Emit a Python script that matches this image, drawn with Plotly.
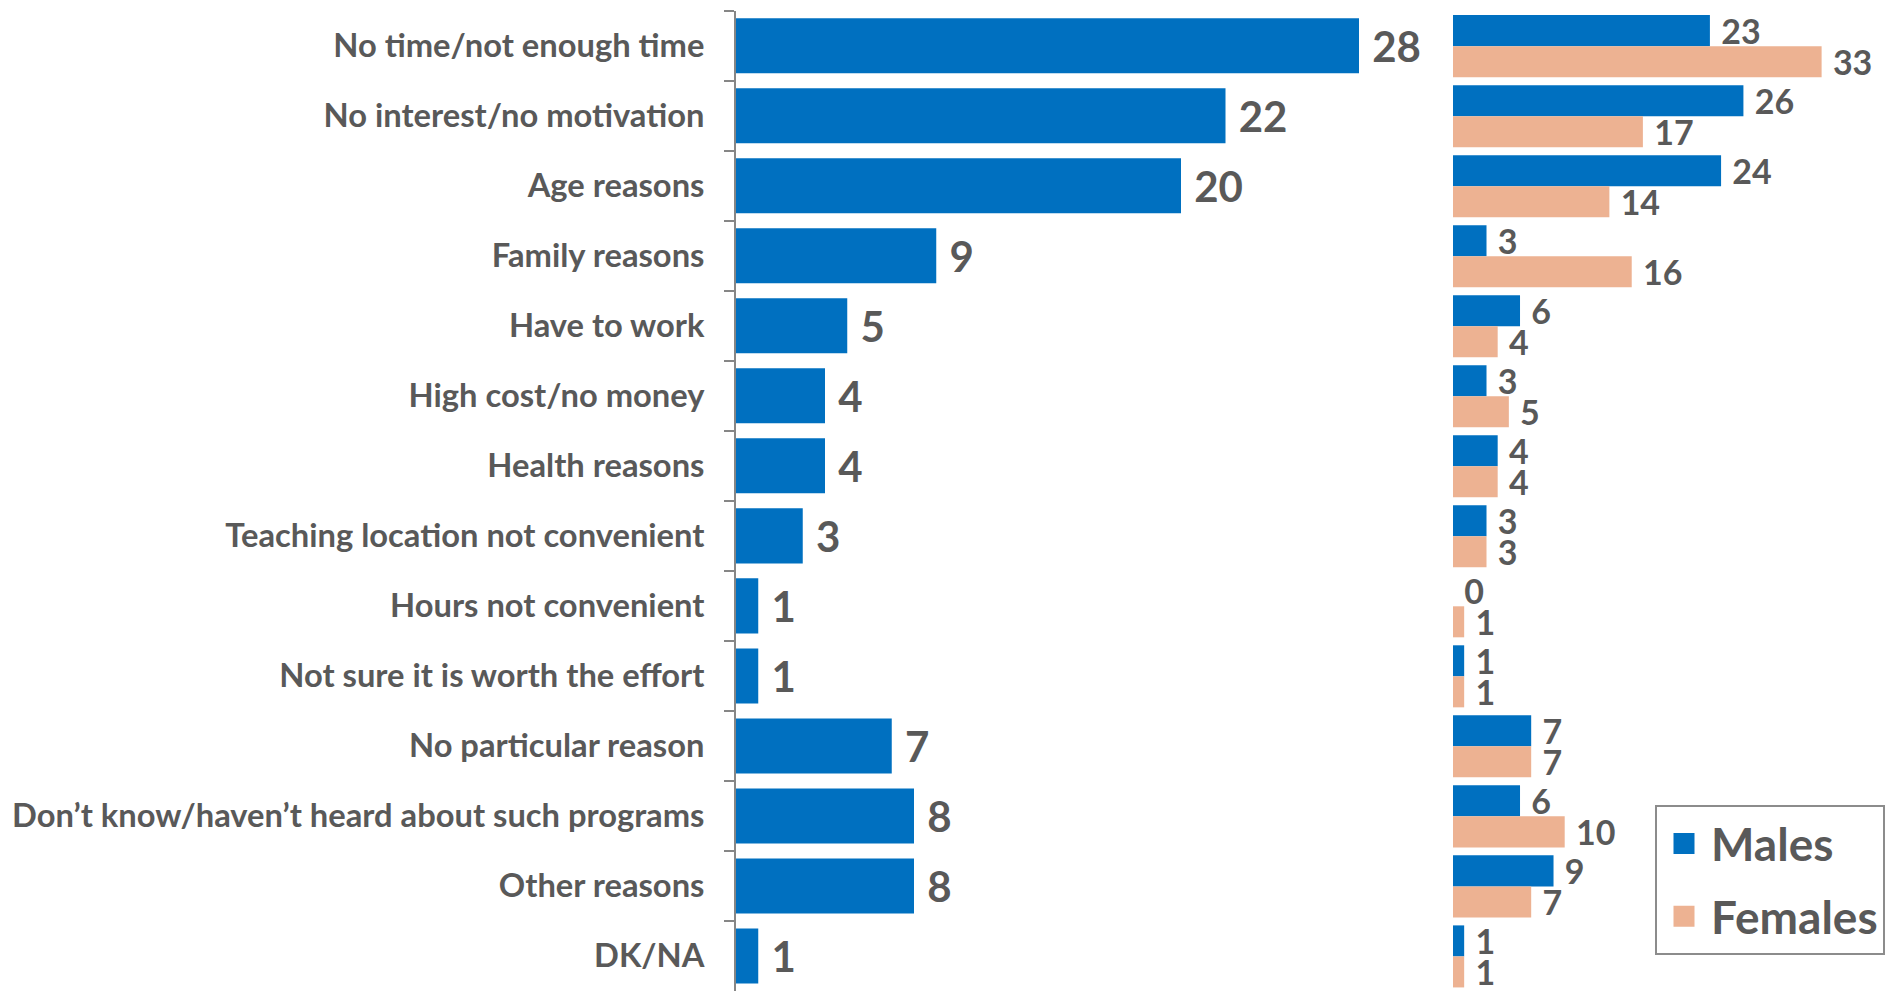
import plotly.graph_objects as go

categories = [
    "No time/not enough time",
    "No interest/no motivation",
    "Age reasons",
    "Family reasons",
    "Have to work",
    "High cost/no money",
    "Health reasons",
    "Teaching location not convenient",
    "Hours not convenient",
    "Not sure it is worth the effort",
    "No particular reason",
    "Don\u2019t know/haven\u2019t heard about such programs",
    "Other reasons",
    "DK/NA",
]
total = [28, 22, 20, 9, 5, 4, 4, 3, 1, 1, 7, 8, 8, 1]
males = [23, 26, 24, 3, 6, 3, 4, 3, 0, 1, 7, 6, 9, 1]
females = [33, 17, 14, 16, 4, 5, 4, 3, 1, 1, 7, 10, 7, 1]
series_names = ["Males", "Females"]

W, H = 1896, 991
BLUE = "#0070C0"
PINK = "#EDB292"
GREY_TXT = "#595959"
FONT = "Lato"

fig = go.Figure()

fig.add_trace(go.Bar(
    y=categories, x=total, orientation="h",
    marker=dict(color=BLUE, line=dict(width=0)),
    width=0.786, offset=-0.393,
    text=total, texttemplate="\u00a0%{x}", textposition="outside",
    textfont=dict(family=FONT, size=42, color=GREY_TXT, weight="bold"),
    constraintext="none", cliponaxis=False,
    showlegend=False, xaxis="x", yaxis="y",
))

for vals, col, off, name in [(males, BLUE, -0.437, series_names[0]),
                             (females, PINK, 0.006, series_names[1])]:
    fig.add_trace(go.Bar(
        y=categories, x=vals, orientation="h", name=name,
        marker=dict(color=col, line=dict(width=0)),
        width=0.443, offset=off,
        text=vals, texttemplate="\u00a0%{x}", textposition="outside",
        textfont=dict(family=FONT, size=34, color=GREY_TXT, weight="bold"),
        constraintext="none", cliponaxis=False,
        showlegend=False, xaxis="x2", yaxis="y2",
    ))

# legend entries (square swatches)
for col, name, grp in [(BLUE, series_names[0], "m"), (PINK, series_names[1], "f")]:
    fig.add_trace(go.Scatter(
        x=[None], y=[None], mode="markers", name=name,
        marker=dict(symbol="square", size=16, color=col, line=dict(color=col, width=5)),
        legendgroup=grp, xaxis="x2", yaxis="y2", hoverinfo="skip",
    ))

x1_left, x1_right = 736, 1440
x2_left, x2_right = 1453, 1896
ytop = 10.7

fig.update_layout(
    width=W, height=H,
    margin=dict(l=0, r=0, t=0, b=0),
    paper_bgcolor="white", plot_bgcolor="rgba(0,0,0,0)",
    barmode="overlay",
    font=dict(family=FONT, color=GREY_TXT),
    xaxis=dict(domain=[x1_left / W, x1_right / W], range=[0, (x1_right - x1_left) / 22.25],
               showgrid=False, zeroline=False, showticklabels=False, showline=False, fixedrange=True),
    xaxis2=dict(domain=[x2_left / W, x2_right / W], range=[0, (x2_right - x2_left) / 11.17],
                showgrid=False, zeroline=False, showticklabels=False, showline=False, fixedrange=True),
    yaxis=dict(domain=[0, 1 - ytop / H], type="category", categoryorder="array",
               categoryarray=categories, range=[13.5, -0.5],
               showline=True, linecolor="#868686", linewidth=2,
               ticks="outside", tickson="boundaries", ticklen=10, tickwidth=2, tickcolor="#868686",
               ticklabelstandoff=23,
               tickfont=dict(family=FONT, size=32.7, color=GREY_TXT, weight="bold"),
               showgrid=False, zeroline=False, anchor="x", fixedrange=True),
    yaxis2=dict(domain=[0, 1 - ytop / H], type="category", categoryorder="array",
                categoryarray=categories, range=[13.5, -0.5], matches="y",
                showticklabels=False, showline=False, showgrid=False, zeroline=False,
                anchor="x2", fixedrange=True),
    legend=dict(x=1885 / W, xanchor="right", y=1 - 955 / H, yanchor="bottom",
                bgcolor="white", bordercolor="#8C8C8C", borderwidth=2,
                font=dict(family=FONT, size=46, color=GREY_TXT, weight="bold"),
                tracegroupgap=10, traceorder="grouped", itemwidth=44),
)

fig.write_html("out.html", config={"displayModeBar": False},
               post_script="document.body.style.margin='0px';document.body.style.overflow='hidden';")
